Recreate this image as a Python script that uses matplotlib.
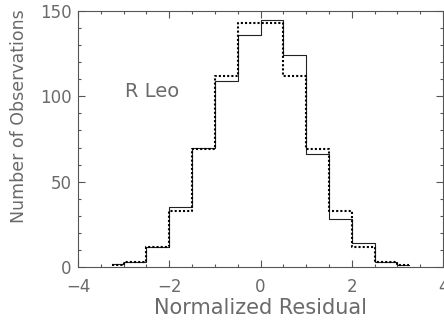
import matplotlib
matplotlib.use("Agg")
import matplotlib.pyplot as plt
from matplotlib.ticker import MultipleLocator

# Histogram of normalized residuals (bin centres and counts)
bin_centers = [-3.25, -2.75, -2.25, -1.75, -1.25, -0.75, -0.25,
               0.25, 0.75, 1.25, 1.75, 2.25, 2.75, 3.25]
observed_counts = [2, 3, 12, 35, 70, 109, 136, 145, 124, 66, 28, 14, 3, 1]
model_counts = [1, 3, 12, 33, 69, 112, 143, 143, 112, 69, 33, 12, 3, 1]

x_ticks = [-4, -2, 0, 2, 4]
y_ticks = [0, 50, 100, 150]
star_name = "R Leo"

plt.rcParams['font.family'] = ['DejaVu Sans']

fig = plt.figure(figsize=(4.44, 3.20), dpi=100)
ax = fig.add_axes([78 / 444, 1 - 267 / 320, 365 / 444, 256 / 320])

text_color = '#6a6a6a'
line_color = '#555555'

ax.step(bin_centers, observed_counts, where='mid', color='#222222', lw=0.8)
ax.step(bin_centers, model_counts, where='mid', color='black', lw=1.5,
        linestyle=(0, (1, 1)))

ax.set_xlim(-4, 4)
ax.set_ylim(0, 150)
ax.set_xticks(x_ticks)
ax.set_yticks(y_ticks)
ax.xaxis.set_minor_locator(MultipleLocator(0.5))
ax.yaxis.set_minor_locator(MultipleLocator(10))
ax.set_xticklabels(['\u2212' + str(abs(t)) if t < 0 else str(t) for t in x_ticks])

ax.tick_params(which='both', direction='in', top=True, right=True,
               color=line_color, width=0.8, labelcolor=text_color,
               labelsize=12)
ax.tick_params(which='major', length=5)
ax.tick_params(which='minor', length=2.5)
ax.tick_params(axis='x', pad=8)
ax.tick_params(axis='y', pad=4.5)

for spine in ax.spines.values():
    spine.set_color(line_color)
    spine.set_linewidth(0.8)

ax.set_xlabel('Normalized Residual', fontsize=15, color=text_color)
ax.set_ylabel('Number of Observations', fontsize=12.5, color=text_color,
              va='center')
ax.xaxis.set_label_coords(0.5, -0.12)
ax.yaxis.set_label_coords(-0.162, 0.59)

ax.text(-2.97, 103, star_name, fontsize=14, color=text_color,
        ha='left', va='center')

fig.savefig('out.png', dpi=100)
